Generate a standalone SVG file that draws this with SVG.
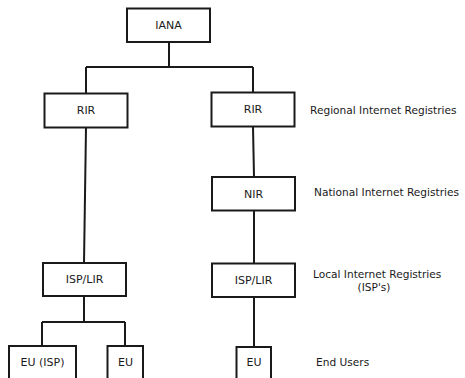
<svg xmlns="http://www.w3.org/2000/svg" width="465" height="378" viewBox="0 0 465 378">
<style>
.box{fill:#fff;stroke:#1a1a1a;stroke-width:2}
.ln{fill:none;stroke:#1a1a1a;stroke-width:2}
.t{font-family:"DejaVu Sans",sans-serif;font-size:11px;fill:#1a1a1a;text-anchor:middle;dominant-baseline:central}
.lab{font-family:"DejaVu Sans",sans-serif;font-size:10.6px;fill:#1a1a1a;dominant-baseline:central}
</style>
<rect width="465" height="378" fill="#fff"/>
<g id="connectors">
<path class="ln" d="M169 42V67M86 67H253M86 67V93.5M253 67V92.5"/>
<path class="ln" d="M86 127.5L84 263"/>
<path class="ln" d="M253 126.5L254 177"/>
<path class="ln" d="M254 210.5L254 263"/>
<path class="ln" d="M84 296V322M42 322H125M42 322V346M125 322V346"/>
<path class="ln" d="M254 297V347"/>
</g>
<g id="iana"><rect class="box" x="127" y="8.5" width="83" height="33.5"/><text class="t" x="168.5" y="25.5">IANA</text></g>
<g id="rir-left"><rect class="box" x="44.5" y="93.5" width="83" height="34"/><text class="t" x="86" y="110.5">RIR</text></g>
<g id="rir-right"><rect class="box" x="211.5" y="92.5" width="83" height="34"/><text class="t" x="253" y="109.5">RIR</text></g>
<g id="nir"><rect class="box" x="212" y="177" width="83" height="33.5"/><text class="t" x="253.5" y="194">NIR</text></g>
<g id="isp-left"><rect class="box" x="43" y="263" width="83" height="33"/><text class="t" x="84.5" y="279.5">ISP/LIR</text></g>
<g id="isp-right"><rect class="box" x="212" y="263.5" width="83" height="33.5"/><text class="t" x="253.5" y="280">ISP/LIR</text></g>
<g id="eu-isp"><rect class="box" x="9" y="346" width="67" height="40"/><text class="t" x="42.5" y="362">EU (ISP)</text></g>
<g id="eu-left"><rect class="box" x="107.5" y="346" width="35.5" height="40"/><text class="t" x="125.5" y="362.5">EU</text></g>
<g id="eu-right"><rect class="box" x="236.5" y="347" width="34.5" height="40"/><text class="t" x="254" y="362.5">EU</text></g>
<g id="labels">
<text class="lab" x="310" y="109.5">Regional Internet Registries</text>
<text class="lab" x="314" y="192">National Internet Registries</text>
<text class="lab" x="313" y="274">Local Internet Registries</text>
<text class="lab" x="374" y="287" text-anchor="middle">(ISP's)</text>
<text class="lab" x="316" y="361.5">End Users</text>
</g>
</svg>
